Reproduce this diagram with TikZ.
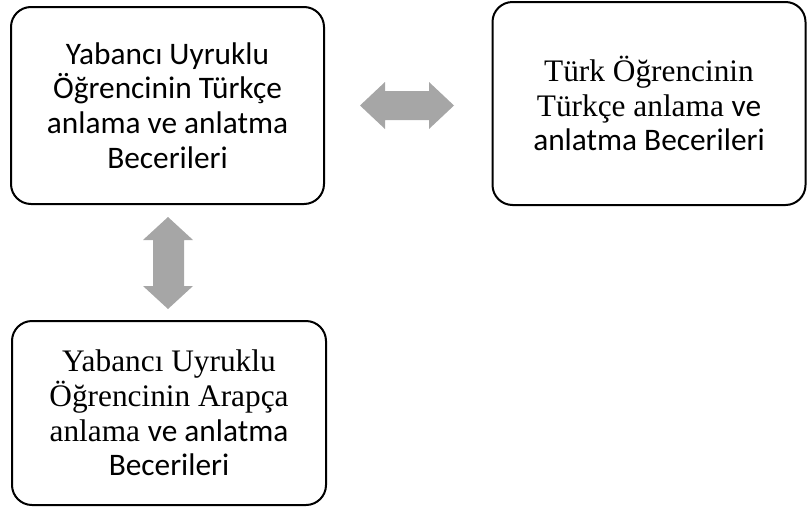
\documentclass[tikz,border=0pt]{standalone}
\usepackage{fontspec}
\setmainfont{Liberation Serif}
\newfontfamily\calfont{Carlito}
\definecolor{arrowgray}{RGB}{166,166,166}
\tikzset{
  skillbox/.style={draw=black, line width=1.5pt, rounded corners=15pt,
    align=center, inner sep=0pt, outer sep=0pt,
    font=\fontsize{23.5}{26}\selectfont},
  blockarrow/.style={fill=arrowgray, draw=none}
}
\begin{document}
\begin{tikzpicture}[x=0.75pt,y=-0.75pt]
	\useasboundingbox (0,0) rectangle (807,511);
	% boxes
	\node[skillbox, minimum width=234.75pt, minimum height=147.75pt] (foreignTr) at (167.5,105.5)
	{\calfont Yabancı Uyruklu\\ \calfont Öğrencinin Türkçe\\ \calfont anlama ve anlatma\\ \calfont Becerileri};
	\node[skillbox, minimum width=234.75pt, minimum height=152.25pt] (turkTr) at (649,103.5)
	{Türk Öğrencinin\\ Türkçe anlama {\calfont ve}\\ \calfont anlatma Becerileri};
	\node[skillbox, minimum width=235.5pt, minimum height=138pt] (foreignAr) at (169,413)
	{Yabancı Uyruklu\\ Öğrencinin Arapça\\ anlama {\calfont ve anlatma}\\ \calfont Becerileri};
	% double arrows
	\fill[blockarrow] (360,105.5) -- (385,82) -- (385,91) -- (429,91) -- (429,82) -- (454,105.5)
		-- (429,129) -- (429,120) -- (385,120) -- (385,129) -- cycle;
	\fill[blockarrow] (168,217) -- (193,240) -- (184,240) -- (184,286) -- (193,286) -- (168,309)
		-- (143,286) -- (153,286) -- (153,240) -- (143,240) -- cycle;
\end{tikzpicture}
\end{document}
